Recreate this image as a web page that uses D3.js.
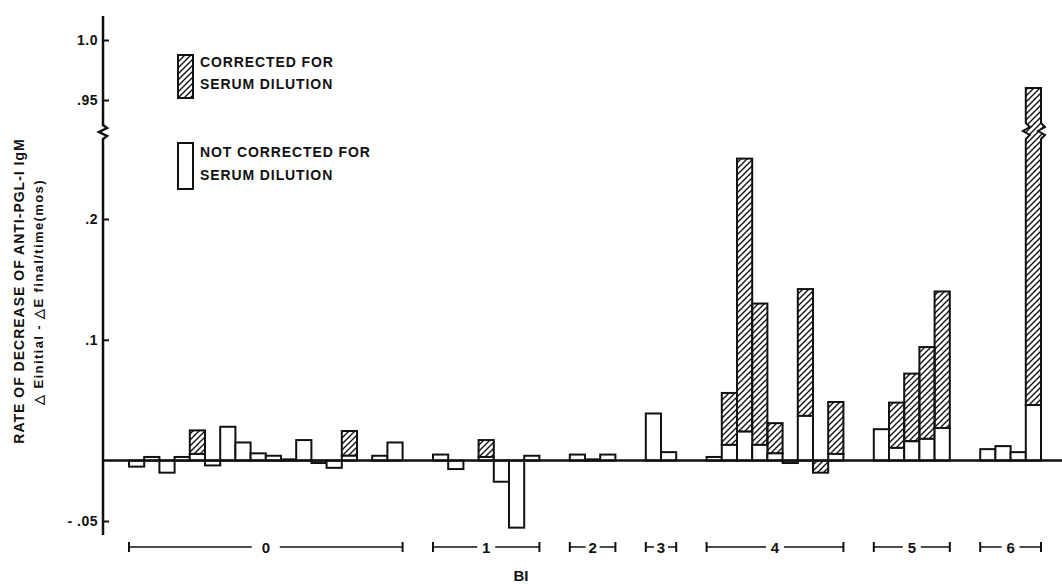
<!DOCTYPE html>
<html>
<head>
<meta charset="utf-8">
<script src="https://cdn.jsdelivr.net/npm/d3@7"></script>
<style>
  body { margin: 0; background: #fff; }
  text { font-family: "Liberation Sans", Arial, sans-serif; font-weight: bold; fill: #111; }
</style>
</head>
<body>
<div id="chart"></div>
<script>
// BI group of every bar, left to right
const biGroup = [0,0,0,0,0,0,0,0,0,0,0,0,0,0,0,0,0,0,
                 1,1,1,1,1,1,1,
                 2,2,2,
                 3,3,
                 4,4,4,4,4,4,4,4,4,
                 5,5,5,5,5,
                 6,6,6,6];
const biLabels = ["0", "1", "2", "3", "4", "5", "6"];

// not corrected for serum dilution (open bars)
const notCorrected = [-0.005, 0.003, -0.010, 0.003, 0.0055, -0.004, 0.028, 0.015, 0.006, 0.004, 0.001, 0.017, -0.002, -0.006, 0.004, 0, 0.004, 0.015,
                      0.005, -0.007, 0, 0.003, -0.0175, -0.0555, 0.004,
                      0.005, 0.001, 0.005,
                      0.039, 0.007,
                      0.003, 0.013, 0.024, 0.013, 0.006, -0.002, 0.037, 0, 0.0055,
                      0.026, 0.0105, 0.016, 0.018, 0.027,
                      0.0095, 0.012, 0.007, 0.046];

// corrected for serum dilution (hatched bars), null = none
const corrected = [null, null, null, null, 0.025, null, null, null, null, null, null, null, null, null, 0.0245, null, null, null,
                   null, null, null, 0.017, null, null, null,
                   null, null, null,
                   null, null,
                   null, 0.056, 0.25, 0.13, 0.031, null, 0.142, -0.010, 0.0485,
                   null, 0.048, 0.072, 0.094, 0.14,
                   null, null, null, 0.96];

const lowerTicks = [-0.05, 0.1, 0.2];
const lowerTickLabels = ["- .05", ".1", ".2"];
const upperTicks = [0.95, 1.0];
const upperTickLabels = [".95", "1.0"];

const width = 1062, height = 584;
const axisX = 103;
const breakY = 131;

const svg = d3.select("#chart").append("svg")
    .attr("width", width)
    .attr("height", height);

// hatch pattern ///
const defs = svg.append("defs");
defs.append("pattern")
    .attr("id", "hatch")
    .attr("patternUnits", "userSpaceOnUse")
    .attr("width", 6)
    .attr("height", 6)
    .append("path")
    .attr("d", "M0,6 L6,0 M-1.5,1.5 L1.5,-1.5 M4.5,7.5 L7.5,4.5")
    .attr("stroke", "#111")
    .attr("stroke-width", 1.4);

// two pieces of the broken y axis
const y = d3.scaleLinear().domain([-0.05, 0.2]).range([521, 219]);
const yUp = d3.scaleLinear().domain([0.95, 1.0]).range([100, 40]);
const lowerMax = y.invert(breakY + 7);

// slot index: bars in order plus two empty slots between groups
const slots = biGroup.map((g, i) => i + 2 * g);
const x = d3.scaleBand()
    .domain(d3.range(d3.max(slots) + 1))
    .range([129, 129 + 15.2 * (d3.max(slots) + 1)])
    .padding(0);
const bw = x.bandwidth();

const bars = biGroup.map((g, i) => ({
    x0: x(slots[i]),
    open: notCorrected[i],
    hatch: corrected[i]
}));

// hatched parts (from open top to corrected value)
bars.filter(d => d.hatch !== null && d.hatch <= lowerMax).forEach(d => {
    const base = d.hatch < 0 ? 0 : d.open;
    svg.append("rect")
        .attr("x", d.x0)
        .attr("width", bw)
        .attr("y", y(Math.max(base, d.hatch)))
        .attr("height", Math.abs(y(base) - y(d.hatch)))
        .attr("fill", "url(#hatch)")
        .attr("stroke", "#111")
        .attr("stroke-width", 2);
});

// hatched bar running past the break
bars.filter(d => d.hatch !== null && d.hatch > lowerMax).forEach(d => {
    const x0 = d.x0, x1 = d.x0 + bw;
    const yb = y(d.open), yt = yUp(d.hatch);
    const z = [[0, breakY + 8], [4, breakY + 4], [-3, breakY], [4, breakY - 4], [0, breakY - 8]];
    const pts = [[x0, yb]]
        .concat(z.map(p => [x0 + p[0], p[1]]))
        .concat([[x0, yt], [x1, yt]])
        .concat(z.slice().reverse().map(p => [x1 + p[0], p[1]]))
        .concat([[x1, yb]]);
    svg.append("path")
        .attr("d", d3.line()(pts) + "Z")
        .attr("fill", "url(#hatch)")
        .attr("stroke", "#111")
        .attr("stroke-width", 2);
});

// open bars
svg.selectAll("rect.open")
    .data(bars.filter(d => d.open !== 0))
    .enter()
    .append("rect")
    .attr("class", "open")
    .attr("x", d => d.x0)
    .attr("width", bw)
    .attr("y", d => y(Math.max(0, d.open)))
    .attr("height", d => Math.abs(y(d.open) - y(0)))
    .attr("fill", "#fff")
    .attr("stroke", "#111")
    .attr("stroke-width", 2);

// zero line
svg.append("line")
    .attr("x1", axisX).attr("x2", width)
    .attr("y1", y(0)).attr("y2", y(0))
    .attr("stroke", "#111")
    .attr("stroke-width", 2.5);

// y axis line with break
svg.append("path")
    .attr("d", d3.line()([[axisX, 16], [axisX, breakY - 6], [axisX + 4, breakY - 3],
        [axisX - 4, breakY + 1], [axisX + 4, breakY + 5], [axisX, breakY + 8], [axisX, 535]]))
    .attr("fill", "none")
    .attr("stroke", "#111")
    .attr("stroke-width", 2.5);

// ticks point right, labels left
const lowerAxis = d3.axisLeft(y)
    .tickValues(lowerTicks)
    .tickFormat((d, i) => lowerTickLabels[i])
    .tickSizeInner(-6)
    .tickSizeOuter(0)
    .tickPadding(5);
const upperAxis = d3.axisLeft(yUp)
    .tickValues(upperTicks)
    .tickFormat((d, i) => upperTickLabels[i])
    .tickSizeInner(-6)
    .tickSizeOuter(0)
    .tickPadding(5);

[lowerAxis, upperAxis].forEach(ax => {
    const g = svg.append("g")
        .attr("transform", `translate(${axisX},0)`)
        .call(ax);
    g.select(".domain").remove();
    g.selectAll(".tick line").attr("stroke", "#111").attr("stroke-width", 2);
    g.selectAll(".tick text")
        .attr("font-size", 14)
        .attr("font-family", "Liberation Sans, Arial, sans-serif")
        .attr("font-weight", "bold")
        .attr("letter-spacing", 0.5)
        .attr("fill", "#111");
});

// BI group brackets
const bracketY = 547;
biLabels.forEach((lab, gi) => {
    const idx = biGroup.map((g, i) => g === gi ? i : -1).filter(i => i >= 0);
    const xa = x(slots[idx[0]]), xb = x(slots[idx[idx.length - 1]]) + bw;
    const cx = (xa + xb) / 2;
    const gap = gi === 0 ? 14 : (idx.length < 4 ? 7 : 9);
    const g = svg.append("g").attr("stroke", "#111").attr("stroke-width", 1.5);
    g.append("line").attr("x1", xa).attr("x2", cx - gap).attr("y1", bracketY).attr("y2", bracketY);
    g.append("line").attr("x1", cx + gap).attr("x2", xb).attr("y1", bracketY).attr("y2", bracketY);
    g.append("line").attr("x1", xa).attr("x2", xa).attr("y1", bracketY - 5).attr("y2", bracketY + 5).attr("stroke-width", 2);
    g.append("line").attr("x1", xb).attr("x2", xb).attr("y1", bracketY - 5).attr("y2", bracketY + 5).attr("stroke-width", 2);
    svg.append("text")
        .attr("x", cx).attr("y", bracketY + 5.5)
        .attr("text-anchor", "middle")
        .attr("font-size", 15)
        .text(lab);
});

svg.append("text")
    .attr("x", 521).attr("y", 581)
    .attr("text-anchor", "middle")
    .attr("font-size", 15)
    .text("BI");

// y axis title, two lines
svg.append("text")
    .attr("transform", "translate(24,291) rotate(-90)")
    .attr("text-anchor", "middle")
    .attr("font-size", 14)
    .attr("letter-spacing", 1)
    .text("RATE OF DECREASE OF ANTI-PGL-I IgM");
svg.append("text")
    .attr("transform", "translate(43,292) rotate(-90)")
    .attr("text-anchor", "middle")
    .attr("font-size", 13)
    .attr("letter-spacing", 1.4)
    .text("\u25B3 Einitial - \u25B3E final/time(mos)");

// legend
const legend = svg.append("g");
legend.append("rect")
    .attr("x", 178).attr("y", 55).attr("width", 15).attr("height", 43)
    .attr("fill", "url(#hatch)").attr("stroke", "#111").attr("stroke-width", 2);
legend.append("rect")
    .attr("x", 178).attr("y", 143).attr("width", 15).attr("height", 46)
    .attr("fill", "#fff").attr("stroke", "#111").attr("stroke-width", 2);
[["CORRECTED FOR", 67], ["SERUM DILUTION", 89], ["NOT CORRECTED FOR", 157], ["SERUM DILUTION", 180]]
    .forEach(t => {
        legend.append("text")
            .attr("x", 200).attr("y", t[1])
            .attr("font-size", 14)
            .attr("letter-spacing", 0.9)
            .text(t[0]);
    });
</script>
</body>
</html>
